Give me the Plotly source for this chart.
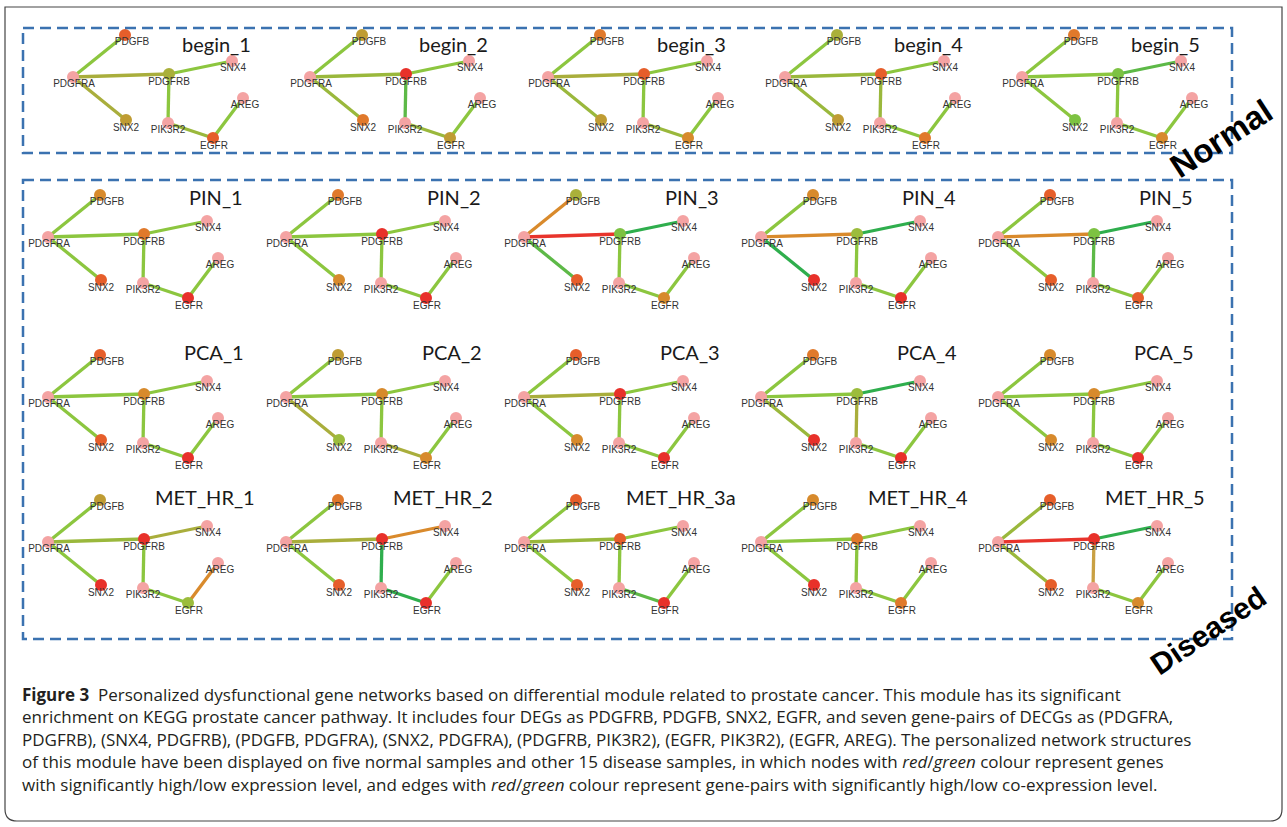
import plotly.graph_objects as go

W, H = 1287, 827

# ---------------- data ----------------
PANEL_TITLES = [
    ["begin_1", "begin_2", "begin_3", "begin_4", "begin_5"],
    ["PIN_1", "PIN_2", "PIN_3", "PIN_4", "PIN_5"],
    ["PCA_1", "PCA_2", "PCA_3", "PCA_4", "PCA_5"],
    ["MET_HR_1", "MET_HR_2", "MET_HR_3a", "MET_HR_4", "MET_HR_5"],
]
GROUP_LABELS = ["Normal", "Diseased"]

NODES = ["PDGFB", "PDGFRA", "PDGFRB", "SNX4", "SNX2", "PIK3R2", "EGFR", "AREG"]
DEG_NODES = ["PDGFB", "PDGFRB", "SNX2", "EGFR"]          # nodes that get a colour
EDGES = [("PDGFRA", "PDGFRB"), ("SNX4", "PDGFRB"), ("PDGFB", "PDGFRA"),
         ("SNX2", "PDGFRA"), ("PDGFRB", "PIK3R2"), ("EGFR", "PIK3R2"), ("EGFR", "AREG")]

# node colour codes for DEG_NODES, per panel (row by row)
NODE_CODES = [
    [["ored", "olive", "ochre", "ored"], ["ochre", "red", "orange", "ochre"],
     ["orange", "ored", "ochre", "amber"], ["olive", "ored", "ochre", "orange"],
     ["orange", "green", "green", "amber"]],
    [["amber", "orange", "ored", "red"], ["orange", "red", "amber", "red"],
     ["olive", "green", "ored", "amber"], ["amber", "ygreen", "red", "red"],
     ["ored", "green", "ored", "ored"]],
    [["ored", "amber", "ored", "red"], ["ochre", "amber", "ygreen", "amber"],
     ["ored", "red", "amber", "red"], ["orange", "ygreen", "red", "red"],
     ["amber", "amber", "amber", "red"]],
    [["ochre", "red", "red", "ygreen"], ["orange", "red", "ored", "red"],
     ["ored", "ored", "ored", "red"], ["amber", "orange", "red", "orange"],
     ["ored", "red", "ored", "amber"]],
]
# edge colour codes for EDGES, per panel
EDGE_CODES = [
    [["ol", "lg", "lg", "ol", "lg", "yg", "lg"], ["yg", "lg", "lg", "yg", "mg", "yg", "lg"],
     ["ol", "lg", "lg", "yg", "lg", "yg", "lg"], ["yg", "lg", "lg", "yg", "yg", "lg", "lg"],
     ["lg", "mg", "lg", "lg", "lg", "lg", "lg"]],
    [["lg"] * 7, ["lg"] * 7,
     ["rd", "dg", "or", "mg", "lg", "lg", "lg"], ["or", "dg", "lg", "dg", "lg", "lg", "lg"],
     ["or", "dg", "lg", "lg", "mg", "lg", "lg"]],
    [["lg"] * 7, ["lg", "lg", "lg", "ol", "lg", "ol", "lg"],
     ["ol", "lg", "lg", "lg", "lg", "lg", "lg"], ["lg", "dg", "lg", "yg", "ol", "lg", "lg"],
     ["lg"] * 7],
    [["yg", "ol", "lg", "lg", "lg", "lg", "or"], ["ol", "or", "lg", "lg", "dg", "dg", "lg"],
     ["yg", "lg", "lg", "lg", "lg", "mg", "lg"], ["lg"] * 7,
     ["rd", "dg", "yg", "yg", "tan", "lg", "lg"]],
]

CAPTION_LINES = [
    "<b>Figure 3</b>  Personalized dysfunctional gene networks based on differential module related to prostate cancer. This module has its significant",
    "enrichment on KEGG prostate cancer pathway. It includes four DEGs as PDGFRB, PDGFB, SNX2, EGFR, and seven gene-pairs of DECGs as (PDGFRA,",
    "PDGFRB), (SNX4, PDGFRB), (PDGFB, PDGFRA), (SNX2, PDGFRA), (PDGFRB, PIK3R2), (EGFR, PIK3R2), (EGFR, AREG). The personalized network structures",
    "of this module have been displayed on five normal samples and other 15 disease samples, in which nodes with <i>red</i>/<i>green</i> colour represent genes",
    "with significantly high/low expression level, and edges with <i>red</i>/<i>green</i> colour represent gene-pairs with significantly high/low co-expression level.",
]

# ---------------- styles / layout ----------------
NODE_PAL = {"pink": "#f4a3a3", "red": "#e8312a", "ored": "#e65e2a", "orange": "#e0792b",
            "amber": "#d78a2c", "ochre": "#bf9c33", "olive": "#aab03a",
            "ygreen": "#9cbc3c", "green": "#7dc242"}
EDGE_PAL = {"lg": "#8cc63f", "dg": "#2fae4d", "mg": "#5db947", "ol": "#a9ae3c",
            "yg": "#9ab83c", "or": "#d98a2c", "rd": "#e8342c", "tan": "#c9a043"}

# graph layout (pixel offsets relative to PDGFRA)
NODE_DX = [52, 0, 96, 159, 53, 95, 140, 170]
NODE_DY = [-42, 0, -3, -16, 43, 46, 61, 21]
LABEL_DX = [7, 1, 0, 1, 0, 0, 1, 2]
LABEL_DY = [7, 7, 8, 7, 8, 7, 8, 7]

COL_X = [[73, 310, 548, 785, 1022], [48, 286, 524, 761, 998],
         [48, 286, 524, 761, 998], [48, 286, 524, 761, 998]]
ROW_Y = [77, 237, 397, 542]
TITLE_DX = [143, 168, 166, 157]
TITLE_DY = [-33, -40, -45, -45]

fig = go.Figure()
edge_groups = {}
node_x, node_y, node_c = [], [], []
lab_x, lab_y, lab_t = [], [], []
annotations = []

for r, row in enumerate(PANEL_TITLES):
    for c, title in enumerate(row):
        ox, oy = COL_X[r][c], ROW_Y[r]
        pos = {n: (ox + NODE_DX[i], oy + NODE_DY[i]) for i, n in enumerate(NODES)}
        for e, (a, b) in enumerate(EDGES):
            col = EDGE_PAL[EDGE_CODES[r][c][e]]
            xs, ys = edge_groups.setdefault(col, ([], []))
            xs += [pos[a][0], pos[b][0], None]
            ys += [pos[a][1], pos[b][1], None]
        for i, n in enumerate(NODES):
            node_x.append(pos[n][0]); node_y.append(pos[n][1])
            if n in DEG_NODES:
                node_c.append(NODE_PAL[NODE_CODES[r][c][DEG_NODES.index(n)]])
            else:
                node_c.append(NODE_PAL["pink"])
            lab_x.append(pos[n][0] + LABEL_DX[i]); lab_y.append(pos[n][1] + LABEL_DY[i])
            lab_t.append(n)
        annotations.append(dict(x=ox + TITLE_DX[r], y=oy + TITLE_DY[r], text=title,
                                showarrow=False, xanchor="center", yanchor="middle",
                                font=dict(family="Lato", size=20, color="#1a1a1a")))

for col, (xs, ys) in edge_groups.items():
    fig.add_trace(go.Scatter(x=xs, y=ys, mode="lines", line=dict(color=col, width=3.3),
                             hoverinfo="skip", showlegend=False))
fig.add_trace(go.Scatter(x=node_x, y=node_y, mode="markers",
                         marker=dict(size=12, color=node_c, line=dict(width=0)),
                         hoverinfo="skip", showlegend=False))
fig.add_trace(go.Scatter(x=lab_x, y=lab_y, mode="text", text=lab_t,
                         textposition="middle center",
                         textfont=dict(family="Liberation Sans", size=10, color="#333"),
                         hoverinfo="skip", showlegend=False))

# group labels
annotations.append(dict(x=1221, y=138, text="<b>" + GROUP_LABELS[0] + "</b>", showarrow=False,
                        textangle=-33, font=dict(family="Liberation Sans", size=33, color="#000")))
annotations.append(dict(x=1208, y=630, text="<b>" + GROUP_LABELS[1] + "</b>", showarrow=False,
                        textangle=-34, font=dict(family="Liberation Sans", size=30, color="#000")))

# caption
CAP_Y = [694, 716.5, 739, 761.5, 784]
for i, line in enumerate(CAPTION_LINES):
    annotations.append(dict(x=20, y=CAP_Y[i], text=line, showarrow=False,
                            xanchor="left", yanchor="middle",
                            font=dict(family="Open Sans", size=17, color="#231f20")))

blue = "#3b72b0"
shapes = [
    dict(type="path", path="M 5 7 L 1282 7 L 1282 809 Q 1282 821 1270 821 L 17 821 Q 5 821 5 809 Z",
         line=dict(color="#444", width=1.2)),
    dict(type="rect", x0=23, x1=1232, y0=28, y1=153, line=dict(color=blue, width=2.5, dash="11px,6px")),
    dict(type="rect", x0=23, x1=1232, y0=180, y1=639, line=dict(color=blue, width=2.5, dash="11px,6px")),
]

fig.update_layout(
    width=W, height=H, margin=dict(l=0, r=0, t=0, b=0),
    paper_bgcolor="white", plot_bgcolor="white",
    xaxis=dict(range=[0, W], visible=False, fixedrange=True),
    yaxis=dict(range=[H, 0], visible=False, fixedrange=True),
    annotations=annotations, shapes=shapes, showlegend=False, hovermode=False,
)

fig.write_html("out.html", config={"displayModeBar": False},
               post_script="document.body.style.margin='0';")
